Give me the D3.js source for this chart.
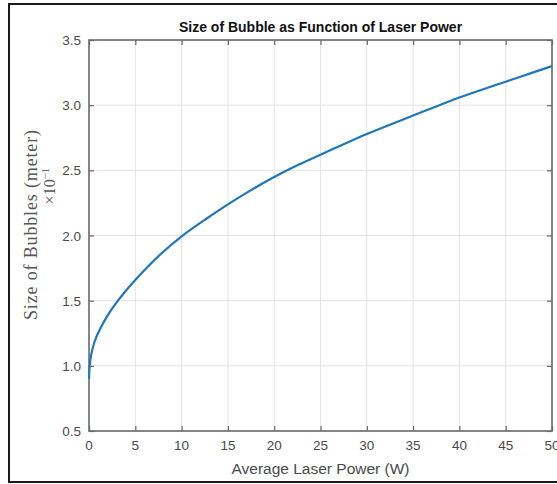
<!DOCTYPE html>
<html lang="en">
<head>
	<meta charset="UTF-8">
	<title>Size of Bubble as Function of Laser Power</title>
	<script src="https://d3js.org/d3.v7.min.js"></script>
	<style>
		body { margin: 0; background: #fff; }
	</style>
</head>
<body>
	<script type="text/javascript">
		// values
		const powerW = [0, 0.05, 0.25, 0.6, 1, 2, 3, 4, 5, 6, 7.5, 10, 12.5, 15, 17.5, 20, 22.5, 25,
			27.5, 30, 32.5, 35, 37.5, 40, 42.5, 45, 47.5, 50];
		const bubbleSize = [0.90, 1.00, 1.10, 1.19, 1.26, 1.39, 1.49, 1.58, 1.66, 1.735, 1.845, 2.00, 2.12,
			2.24, 2.35, 2.45, 2.54, 2.62, 2.70, 2.78, 2.85, 2.92, 2.99, 3.06, 3.12, 3.18, 3.24, 3.30];
		const xTicks = [0, 5, 10, 15, 20, 25, 30, 35, 40, 45, 50];
		const yTicks = [0.5, 1.0, 1.5, 2.0, 2.5, 3.0, 3.5];

		const width = 557;
		const height = 484;
		const plot = { left: 89, right: 552, top: 40, bottom: 431 };
		const sans = "'Liberation Sans', Arial, sans-serif";
		const serif = "'Liberation Serif', 'Times New Roman', serif";

		const xScale = d3.scaleLinear()
			.domain([0, 50])
			.range([plot.left, plot.right]);

		const yScale = d3.scaleLinear()
			.domain([0.5, 3.5])
			.range([plot.bottom, plot.top]);

		const svg = d3.select("body")
			.append("svg")
			.attr("width", width)
			.attr("height", height)
			.style("font-family", sans);

		// outer frame of the screenshot
		svg.append("rect")
			.attr("x", 9)
			.attr("y", 4)
			.attr("width", 600)
			.attr("height", 478)
			.attr("fill", "none")
			.attr("stroke", "#1a1a1a")
			.attr("stroke-width", 2);

		// grid
		svg.append("g")
			.selectAll("line")
			.data(xTicks)
			.enter()
			.append("line")
			.attr("x1", (d) => xScale(d))
			.attr("x2", (d) => xScale(d))
			.attr("y1", plot.top)
			.attr("y2", plot.bottom)
			.attr("stroke", "#e3e3e3")
			.attr("stroke-width", 1);

		svg.append("g")
			.selectAll("line")
			.data(yTicks)
			.enter()
			.append("line")
			.attr("x1", plot.left)
			.attr("x2", plot.right)
			.attr("y1", (d) => yScale(d))
			.attr("y2", (d) => yScale(d))
			.attr("stroke", "#e3e3e3")
			.attr("stroke-width", 1);

		// axes, ticks inward on all four sides
		const tickLen = 5;
		svg.append("g")
			.attr("transform", `translate(0,${plot.bottom})`)
			.call(d3.axisTop(xScale).tickValues(xTicks).tickSize(tickLen).tickFormat(""));
		svg.append("g")
			.attr("transform", `translate(0,${plot.top})`)
			.call(d3.axisBottom(xScale).tickValues(xTicks).tickSize(tickLen).tickFormat(""));
		svg.append("g")
			.attr("transform", `translate(${plot.left},0)`)
			.call(d3.axisRight(yScale).tickValues(yTicks).tickSize(tickLen).tickFormat(""));
		svg.append("g")
			.attr("transform", `translate(${plot.right},0)`)
			.call(d3.axisLeft(yScale).tickValues(yTicks).tickSize(tickLen).tickFormat(""));
		svg.selectAll(".domain").remove();
		svg.selectAll(".tick line").attr("stroke", "#666").attr("stroke-width", 1.2);

		svg.append("rect")
			.attr("x", plot.left)
			.attr("y", plot.top)
			.attr("width", plot.right - plot.left)
			.attr("height", plot.bottom - plot.top)
			.attr("fill", "none")
			.attr("stroke", "#6b6b6b")
			.attr("stroke-width", 1.6);

		// tick labels
		svg.append("g")
			.selectAll("text")
			.data(xTicks)
			.enter()
			.append("text")
			.text((d) => d)
			.attr("x", (d) => xScale(d))
			.attr("y", 450)
			.attr("text-anchor", "middle")
			.attr("font-size", "13.5px")
			.attr("fill", "#4a4a4a");

		svg.append("g")
			.selectAll("text")
			.data(yTicks)
			.enter()
			.append("text")
			.text((d) => d.toFixed(1))
			.attr("x", 81)
			.attr("y", (d) => yScale(d) + 5)
			.attr("text-anchor", "end")
			.attr("font-size", "13.5px")
			.attr("fill", "#4a4a4a");

		// the curve (basis keeps it smooth between the read points)
		const line = d3.line()
			.x((d, i) => xScale(powerW[i]))
			.y((d) => yScale(d))
			.curve(d3.curveBasis);

		svg.append("path")
			.datum(bubbleSize)
			.attr("d", line)
			.attr("fill", "none")
			.attr("stroke", "#1f77b8")
			.attr("stroke-width", 2.2);

		// title and axis labels
		svg.append("text")
			.text("Size of Bubble as Function of Laser Power")
			.attr("x", (plot.left + plot.right) / 2)
			.attr("y", 32)
			.attr("text-anchor", "middle")
			.attr("font-size", "14px")
			.attr("font-weight", "bold")
			.attr("fill", "#111");

		svg.append("text")
			.text("Average Laser Power (W)")
			.attr("x", (plot.left + plot.right) / 2)
			.attr("y", 474)
			.attr("text-anchor", "middle")
			.attr("font-size", "15.5px")
			.attr("fill", "#4a4a4a");

		const yLabel = svg.append("g")
			.attr("transform", "translate(37,225) rotate(-90)");
		yLabel.append("text")
			.text("Size of Bubbles (meter)")
			.attr("text-anchor", "middle")
			.style("font-family", serif)
			.attr("font-size", "18px")
			.attr("textLength", 190)
			.attr("lengthAdjust", "spacing")
			.attr("fill", "#555");

		const yExp = svg.append("g")
			.attr("transform", "translate(55,186) rotate(-90)");
		const expText = yExp.append("text")
			.attr("text-anchor", "middle")
			.style("font-family", serif)
			.attr("font-size", "16px")
			.attr("fill", "#555");
		expText.append("tspan").text("\u00d710");
		expText.append("tspan").text("\u22121").attr("font-size", "11px").attr("dy", -6);
	</script>
</body>
</html>
